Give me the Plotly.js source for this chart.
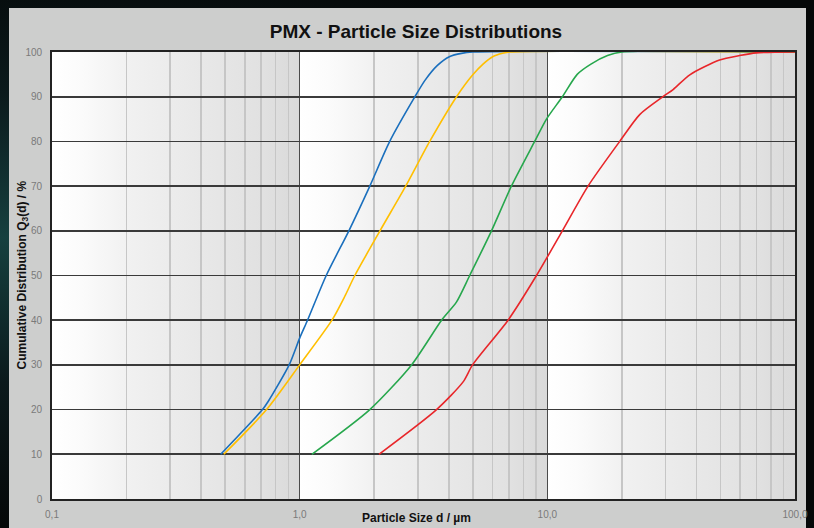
<!DOCTYPE html>
<html>
<head>
<meta charset="utf-8">
<script src="https://cdn.plot.ly/plotly-3.0.1.min.js"></script>
<style>
  html, body { margin:0; padding:0; width:814px; height:528px; overflow:hidden;
    background: radial-gradient(ellipse at 0% 45%, #16403f 0%, #0b1a1c 35%, #050808 70%), #050808; }
  #panel { position:absolute; left:9px; top:8px; width:797px; height:530px; background:#cdcecd; }
  #chart { position:absolute; left:0; top:0; width:814px; height:528px; }
</style>
</head>
<body>
<div id="panel"></div>
<div id="chart"></div>
<script>
// ---- data (particle size d in µm, cumulative Q3 in %) ----
const blueSize   = [0.48, 0.708, 0.746, 0.907, 1.0, 1.076, 1.28, 1.58, 1.92, 2.31, 2.92, 3.2,  3.6,  4.04, 4.5,  5.0, 100];
const blueQ3     = [10,   20,    21.8,  30,    36,  40,    50,   60,   70,   80,   90,   93.6, 97.0, 99,   99.7, 100, 100];

const yellowSize = [0.494, 0.735, 1.0, 1.35, 1.52, 1.67, 2.11, 2.68, 3.35, 4.30, 5.0,  5.5,  6.04, 6.6,  7.05, 100];
const yellowQ3   = [10,    20,    30,  40,   45.3, 50,   60,   70,   80,   90,   94.9, 97.3, 99,   99.7, 100,  100];

const greenSize  = [1.12, 1.92, 2.83, 3.74, 4.30, 4.86, 5.95, 7.16, 8.89, 9.92, 11.5, 13.2, 15.0, 17.5, 20.0, 100];
const greenQ3    = [10,   20,   30,   40,   44.1, 50,   60,   70,   80,   85,   90,   95,   97.3, 99.2, 100,  100];

const redSize    = [2.09, 3.57, 4.57, 4.99, 6.94, 9.04, 11.5, 14.6, 19.6, 23.6, 29.3, 32.2, 37.6, 49.6, 59.7, 69.8, 100];
const redQ3      = [10,   20,   26.2, 30,   40,   50,   60,   70,   80,   86.0, 90,   91.6, 94.9, 98.2, 99.2, 99.8, 100];

const xTickVals  = [0.1, 1, 10, 100];
const xTickText  = ['0,1', '1,0', '10,0', '100,0'];
const yTickVals  = [0, 10, 20, 30, 40, 50, 60, 70, 80, 90, 100];

// ---- decade gradient background (decoration) ----
const grad = '<svg xmlns="http://www.w3.org/2000/svg" width="300" height="100" viewBox="0 0 300 100" preserveAspectRatio="none">' +
  '<defs><linearGradient id="g" x1="0" y1="0" x2="1" y2="0">' +
  '<stop offset="0" stop-color="#ffffff"/><stop offset="0.12" stop-color="#fbfbfb"/>' +
  '<stop offset="0.3" stop-color="#f1f1f1"/><stop offset="0.6" stop-color="#e8e8e8"/>' +
  '<stop offset="0.85" stop-color="#e1e1e1"/><stop offset="1" stop-color="#d9d9d9"/>' +
  '</linearGradient></defs>' +
  '<rect x="0" y="0" width="100" height="100" fill="url(#g)"/>' +
  '<rect x="100" y="0" width="100" height="100" fill="url(#g)"/>' +
  '<rect x="200" y="0" width="100" height="100" fill="url(#g)"/></svg>';
const gradURI = 'data:image/svg+xml;base64,' + btoa(grad);

const FONT = '"Liberation Sans Narrow", "Liberation Sans", Arial, sans-serif';

function tr(x, y, color) {
  return { x: x, y: y, type: 'scatter', mode: 'lines',
    line: { color: color, width: 1.6, shape: 'spline', smoothing: 0.7 }, hoverinfo: 'skip' };
}

const data = [
  tr(blueSize, blueQ3, '#1a6fbd'),
  tr(yellowSize, yellowQ3, '#ffbf00'),
  tr(greenSize, greenQ3, '#27a74d'),
  tr(redSize, redQ3, '#e8262a')
];

const layout = {
  width: 814, height: 528,
  margin: { l: 52, r: 19, t: 52, b: 29 },
  paper_bgcolor: 'rgba(0,0,0,0)',
  plot_bgcolor: 'rgba(0,0,0,0)',
  showlegend: false,
  font: { family: FONT },
  title: { text: '<b>PMX - Particle Size Distributions</b>', x: 0.511, xanchor: 'center',
           y: 0.94, yanchor: 'middle', font: { family: FONT, size: 19, color: '#111' } },
  xaxis: {
    type: 'log', range: [-1, 2], tickvals: xTickVals, ticktext: xTickText,
    showgrid: true, gridcolor: '#4a4a4a', gridwidth: 1.6,
    minor: { dtick: 'D1', showgrid: true, gridcolor: '#c6c6c6', gridwidth: 1.6, ticks: '' },
    showline: true, linecolor: '#222', linewidth: 1.8, mirror: true,
    ticks: 'outside', ticklen: 5, tickcolor: 'rgba(0,0,0,0)',
    tickfont: { family: FONT, size: 10, color: '#7a7a7a' }, zeroline: false
  },
  yaxis: {
    range: [0, 100], tickvals: yTickVals,
    showgrid: true, gridcolor: '#3a3a3a', gridwidth: 1.6,
    showline: true, linecolor: '#222', linewidth: 1.8, mirror: true,
    ticks: 'outside', ticklen: 6, tickcolor: 'rgba(0,0,0,0)',
    tickfont: { family: FONT, size: 10, color: '#7a7a7a' }, zeroline: false
  },
  images: [{ source: gradURI, xref: 'paper', yref: 'paper', x: 0, y: 1, sizex: 1, sizey: 1,
             sizing: 'stretch', xanchor: 'left', yanchor: 'top', layer: 'below' }],
  annotations: [
    { text: '<b>Particle Size d / µm</b>', xref: 'paper', yref: 'paper', x: 0.49, y: 0,
      xanchor: 'center', yanchor: 'top', yshift: -10, showarrow: false,
      font: { family: FONT, size: 12, color: '#111' } },
    { text: '<b>Cumulative Distribution Q<sub>3</sub>(d) / %</b>', xref: 'paper', yref: 'paper',
      x: 0, y: 0.5, xanchor: 'center', yanchor: 'middle', xshift: -30, textangle: -90, showarrow: false,
      font: { family: FONT, size: 12, color: '#111' } }
  ]
};

Plotly.newPlot('chart', data, layout, { staticPlot: true, displayModeBar: false });
</script>
</body>
</html>
